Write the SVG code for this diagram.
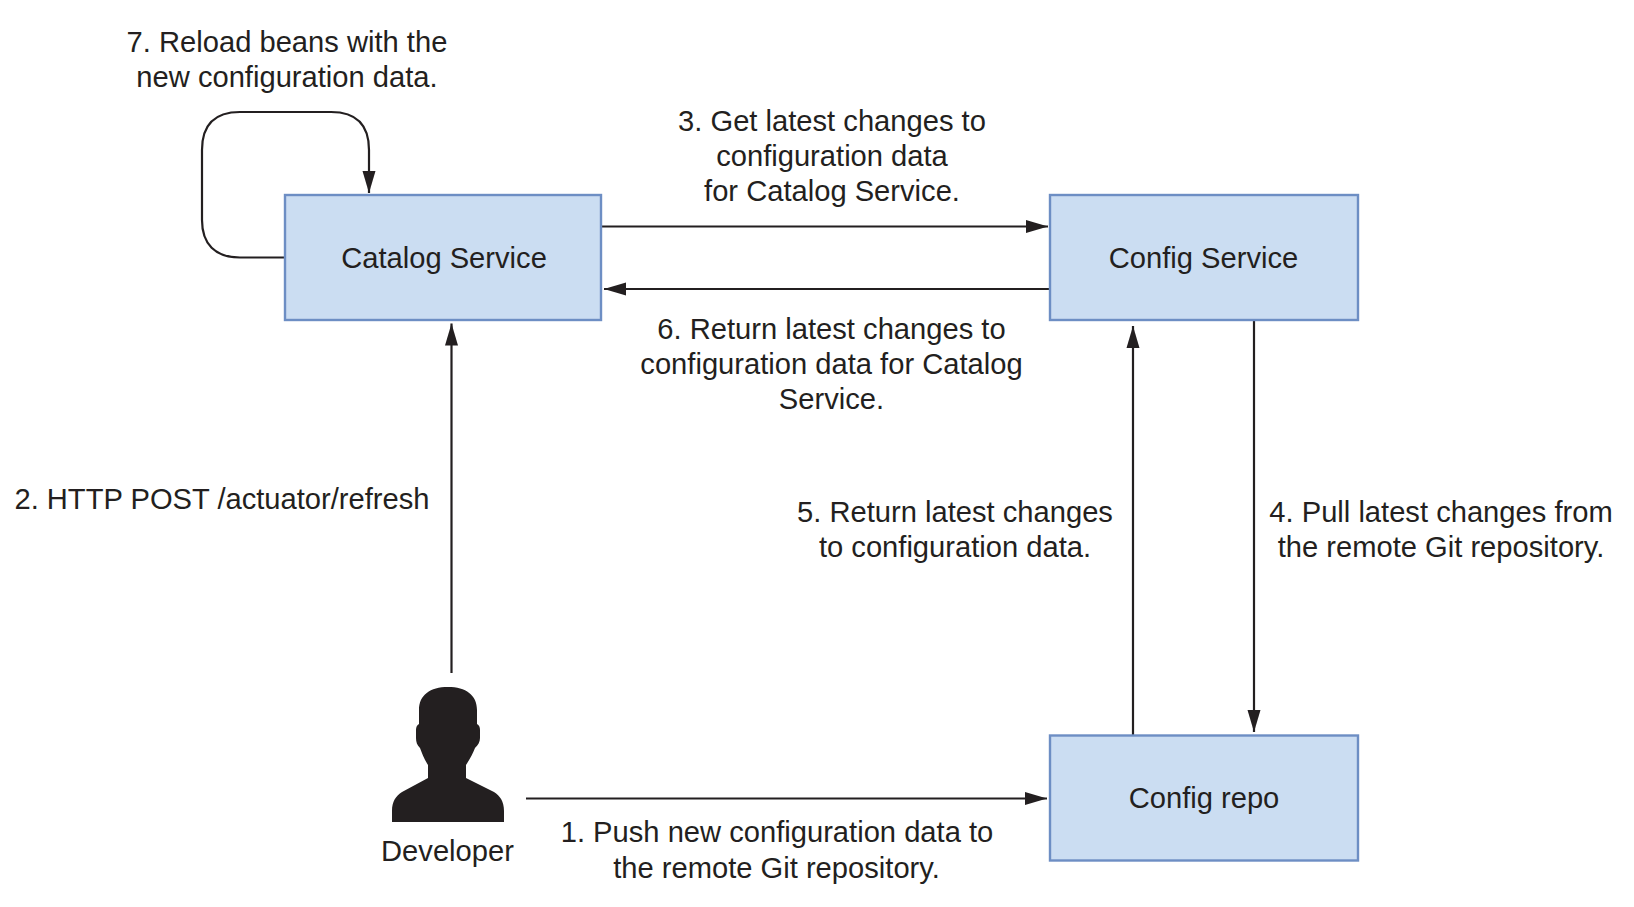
<svg xmlns="http://www.w3.org/2000/svg" width="1634" height="907" viewBox="0 0 1634 907">
<style>
text{font-family:"Liberation Sans",Arial,sans-serif;font-size:29.15px;fill:#231f20;text-anchor:middle}
.box{fill:#cbddf2;stroke:#6d8ec4;stroke-width:2.4}
.c{fill:none;stroke:#231f20;stroke-width:2.2;marker-end:url(#a)}
</style>
<defs><marker id="a" markerUnits="userSpaceOnUse" markerWidth="24" markerHeight="14" refX="22" refY="7" orient="auto"><path d="M0 .5L22 7L0 13.500Z" fill="#231f20"/></marker></defs>
<rect width="1634" height="907" fill="#fff"/>
<g id="connectors">
<path class="c" d="M285 257.500H240C215 257.500 202 244 202 220V150C202 125 215 112 240 112H331C356 112 369 125 369 150V193"/>
<path class="c" d="M601 226.500H1048"/>
<path class="c" d="M1050 289H604"/>
<path class="c" d="M451.500 673V323.500"/>
<path class="c" d="M1133 736V326"/>
<path class="c" d="M1254 320V732"/>
<path class="c" d="M526 798.500H1047"/>
</g>
<g id="catalog-service"><rect class="box" x="285" y="195" width="316" height="125"/><text x="444" y="268">Catalog Service</text></g>
<g id="config-service"><rect class="box" x="1050" y="195" width="308" height="125"/><text x="1203.500" y="268">Config Service</text></g>
<g id="config-repo"><rect class="box" x="1050" y="735.500" width="308" height="125"/><text x="1204" y="808">Config repo</text></g>
<g id="developer"><path fill="#231f20" d="M392 822V811C392 801 396 796 402 792L428 778V765C424 759 422 753 420 748C417 745 416 742 416 738V730C416 727 417 725 419 724V710C419 695 430 687 448 687C466 687 477 695 477 710V724C479 725 480 727 480 730V738C480 742 478 745 475 748C473 753 470 759 466 765V778L494 792C500 796 504 801 504 811V822Z"/><text x="447.500" y="861">Developer</text></g>
<g id="labels">
<text x="287" y="52">7. Reload beans with the</text><text x="287" y="87">new configuration data.</text>
<text x="832" y="131">3. Get latest changes to</text><text x="832" y="166">configuration data</text><text x="832" y="201">for Catalog Service.</text>
<text x="831.500" y="339">6. Return latest changes to</text><text x="831.500" y="374">configuration data for Catalog</text><text x="831.500" y="409">Service.</text>
<text x="222" y="509">2. HTTP POST /actuator/refresh</text>
<text x="955" y="522">5. Return latest changes</text><text x="955" y="557">to configuration data.</text>
<text x="1441" y="522">4. Pull latest changes from</text><text x="1441" y="557">the remote Git repository.</text>
<text x="777" y="842">1. Push new configuration data to</text><text x="776.500" y="877.500">the remote Git repository.</text>
</g>
</svg>
